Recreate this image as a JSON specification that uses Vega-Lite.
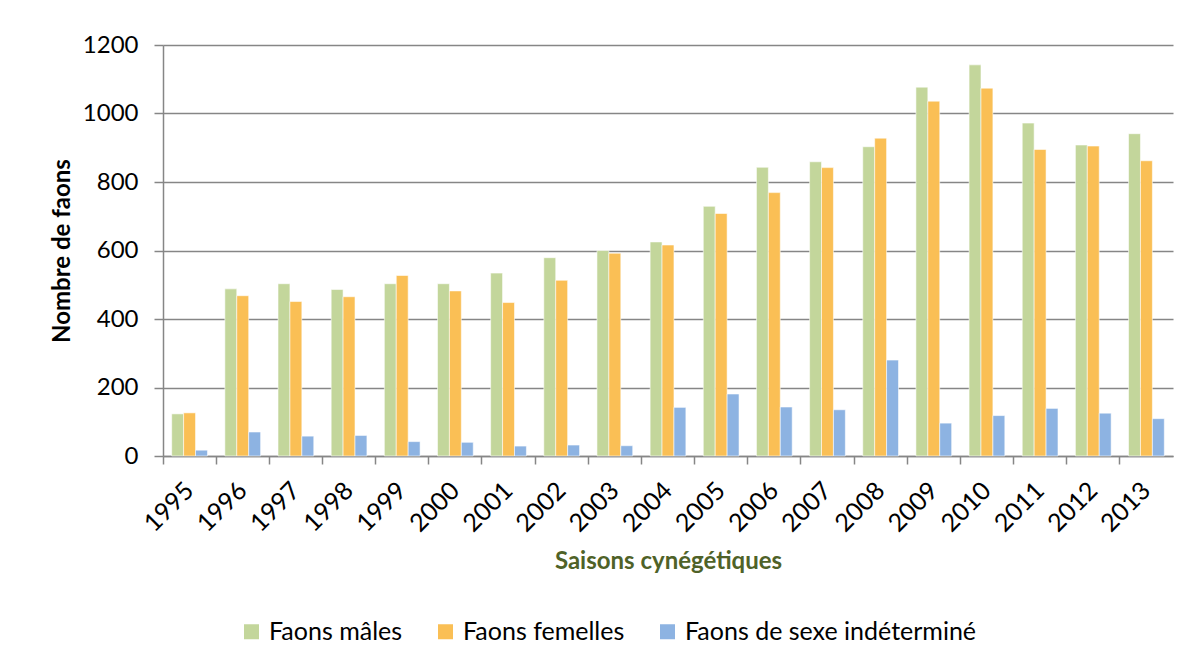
{
  "$schema": "https://vega.github.io/schema/vega-lite/v6.json",
  "width": 1010,
  "height": 411,
  "autosize": "none",
  "padding": {"left": 163, "top": 45, "right": 17, "bottom": 210},
  "background": "#ffffff",
  "config": {
    "font": "Lato",
    "view": {"stroke": null},
    "axis": {"labelFont": "Lato", "titleFont": "Lato"}
  },
  "data": {
    "values": [
      {"saison": "1995", "serie": "Faons mâles", "n": 123},
      {"saison": "1995", "serie": "Faons femelles", "n": 126},
      {"saison": "1995", "serie": "Faons de sexe indéterminé", "n": 17},
      {"saison": "1996", "serie": "Faons mâles", "n": 488},
      {"saison": "1996", "serie": "Faons femelles", "n": 468},
      {"saison": "1996", "serie": "Faons de sexe indéterminé", "n": 70},
      {"saison": "1997", "serie": "Faons mâles", "n": 503},
      {"saison": "1997", "serie": "Faons femelles", "n": 451},
      {"saison": "1997", "serie": "Faons de sexe indéterminé", "n": 58},
      {"saison": "1998", "serie": "Faons mâles", "n": 486},
      {"saison": "1998", "serie": "Faons femelles", "n": 465},
      {"saison": "1998", "serie": "Faons de sexe indéterminé", "n": 60},
      {"saison": "1999", "serie": "Faons mâles", "n": 503},
      {"saison": "1999", "serie": "Faons femelles", "n": 527},
      {"saison": "1999", "serie": "Faons de sexe indéterminé", "n": 42},
      {"saison": "2000", "serie": "Faons mâles", "n": 503},
      {"saison": "2000", "serie": "Faons femelles", "n": 482},
      {"saison": "2000", "serie": "Faons de sexe indéterminé", "n": 40},
      {"saison": "2001", "serie": "Faons mâles", "n": 534},
      {"saison": "2001", "serie": "Faons femelles", "n": 448},
      {"saison": "2001", "serie": "Faons de sexe indéterminé", "n": 29},
      {"saison": "2002", "serie": "Faons mâles", "n": 579},
      {"saison": "2002", "serie": "Faons femelles", "n": 513},
      {"saison": "2002", "serie": "Faons de sexe indéterminé", "n": 32},
      {"saison": "2003", "serie": "Faons mâles", "n": 600},
      {"saison": "2003", "serie": "Faons femelles", "n": 592},
      {"saison": "2003", "serie": "Faons de sexe indéterminé", "n": 30},
      {"saison": "2004", "serie": "Faons mâles", "n": 625},
      {"saison": "2004", "serie": "Faons femelles", "n": 616},
      {"saison": "2004", "serie": "Faons de sexe indéterminé", "n": 142},
      {"saison": "2005", "serie": "Faons mâles", "n": 729},
      {"saison": "2005", "serie": "Faons femelles", "n": 708},
      {"saison": "2005", "serie": "Faons de sexe indéterminé", "n": 181},
      {"saison": "2006", "serie": "Faons mâles", "n": 843},
      {"saison": "2006", "serie": "Faons femelles", "n": 769},
      {"saison": "2006", "serie": "Faons de sexe indéterminé", "n": 143},
      {"saison": "2007", "serie": "Faons mâles", "n": 859},
      {"saison": "2007", "serie": "Faons femelles", "n": 842},
      {"saison": "2007", "serie": "Faons de sexe indéterminé", "n": 135},
      {"saison": "2008", "serie": "Faons mâles", "n": 903},
      {"saison": "2008", "serie": "Faons femelles", "n": 928},
      {"saison": "2008", "serie": "Faons de sexe indéterminé", "n": 280},
      {"saison": "2009", "serie": "Faons mâles", "n": 1077},
      {"saison": "2009", "serie": "Faons femelles", "n": 1036},
      {"saison": "2009", "serie": "Faons de sexe indéterminé", "n": 96},
      {"saison": "2010", "serie": "Faons mâles", "n": 1142},
      {"saison": "2010", "serie": "Faons femelles", "n": 1074},
      {"saison": "2010", "serie": "Faons de sexe indéterminé", "n": 118},
      {"saison": "2011", "serie": "Faons mâles", "n": 972},
      {"saison": "2011", "serie": "Faons femelles", "n": 895},
      {"saison": "2011", "serie": "Faons de sexe indéterminé", "n": 139},
      {"saison": "2012", "serie": "Faons mâles", "n": 908},
      {"saison": "2012", "serie": "Faons femelles", "n": 905},
      {"saison": "2012", "serie": "Faons de sexe indéterminé", "n": 125},
      {"saison": "2013", "serie": "Faons mâles", "n": 941},
      {"saison": "2013", "serie": "Faons femelles", "n": 862},
      {"saison": "2013", "serie": "Faons de sexe indéterminé", "n": 109}
    ]
  },
  "mark": {"type": "bar", "stroke": "#ffffff", "strokeWidth": 0.7, "strokeOpacity": 0.8},
  "encoding": {
    "x": {
      "field": "saison",
      "type": "nominal",
      "sort": null,
      "scale": {"paddingInner": 0, "paddingOuter": 0},
      "axis": {
        "title": "Saisons cynégétiques",
        "titleFontSize": 24,
        "titleFontWeight": "bold",
        "titleColor": "#4F6228",
        "titlePadding": 13,
        "bandPosition": 0,
        "labelAngle": -45,
        "labelAlign": "right",
        "labelBaseline": "middle",
        "labelOffset": 0,
        "labelPadding": 22,
        "labelFontSize": 25,
        "labelColor": "#000000",
        "domainColor": "#868686",
        "domainWidth": 1.5,
        "tickColor": "#868686",
        "tickWidth": 1.5,
        "tickSize": 8,
        "grid": false
      }
    },
    "xOffset": {
      "field": "serie",
      "type": "nominal",
      "sort": ["Faons mâles", "Faons femelles", "Faons de sexe indéterminé"],
      "scale": {"paddingInner": 0, "paddingOuter": 0.73}
    },
    "y": {
      "field": "n",
      "type": "quantitative",
      "scale": {"domain": [0, 1200], "nice": false},
      "axis": {
        "title": "Nombre de faons",
        "titleFontSize": 24,
        "titleFontWeight": "bold",
        "titleColor": "#000000",
        "titlePadding": 8,
        "values": [0, 200, 400, 600, 800, 1000, 1200],
        "format": "d",
        "labelFontSize": 24,
        "labelColor": "#000000",
        "labelPadding": 16,
        "domainColor": "#868686",
        "domainWidth": 1.5,
        "tickColor": "#868686",
        "tickWidth": 1.5,
        "tickSize": 9,
        "gridColor": "#868686",
        "gridWidth": 1.5
      }
    },
    "color": {
      "field": "serie",
      "type": "nominal",
      "sort": ["Faons mâles", "Faons femelles", "Faons de sexe indéterminé"],
      "scale": {
        "domain": ["Faons mâles", "Faons femelles", "Faons de sexe indéterminé"],
        "range": ["#C3D69B", "#FABF55", "#8DB3E2"]
      },
      "legend": {
        "title": null,
        "orient": "none",
        "direction": "horizontal",
        "legendX": 76,
        "legendY": 574,
        "symbolType": "square",
        "symbolSize": 225,
        "symbolStrokeWidth": 0,
        "labelFontSize": 25,
        "labelFont": "Lato",
        "labelColor": "#000000",
        "labelOffset": 5,
        "labelLimit": 500,
        "columnPadding": 30
      }
    }
  }
}
